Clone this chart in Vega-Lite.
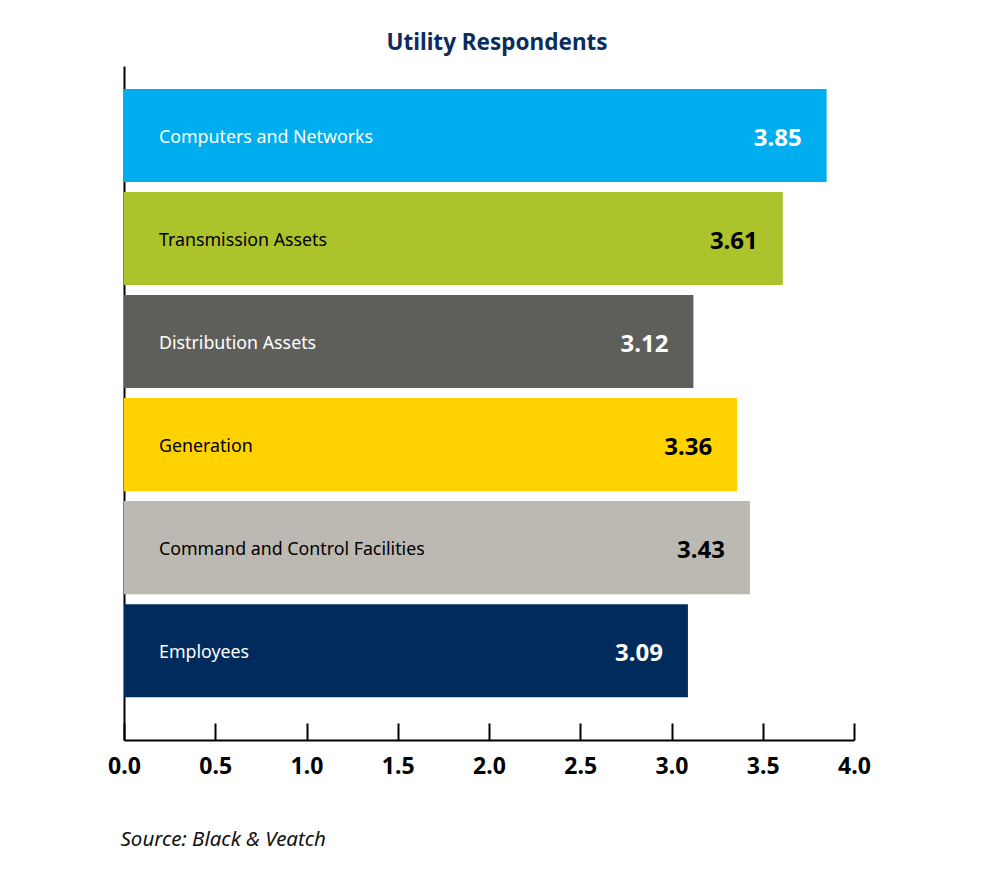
{
  "$schema": "https://vega.github.io/schema/vega-lite/v6.json",
  "autosize": "none",
  "width": 730,
  "height": 674,
  "padding": {"left": 124, "top": 66, "right": 135, "bottom": 137},
  "background": "white",
  "title": {
    "text": "Utility Respondents",
    "font": "Noto Sans",
    "fontSize": 22.5,
    "fontWeight": "bold",
    "color": "#0b2d5e",
    "anchor": "middle",
    "dx": 8,
    "baseline": "alphabetic",
    "offset": -6
  },
  "config": {
    "view": {"stroke": null},
    "font": "Noto Sans"
  },
  "data": {
    "values": [
      {"category": "Computers and Networks", "value": 3.85},
      {"category": "Transmission Assets", "value": 3.61},
      {"category": "Distribution Assets", "value": 3.12},
      {"category": "Generation", "value": 3.36},
      {"category": "Command and Control Facilities", "value": 3.43},
      {"category": "Employees", "value": 3.09}
    ]
  },
  "encoding": {
    "y": {
      "field": "category",
      "type": "nominal",
      "sort": null,
      "scale": {"paddingInner": 0.097, "paddingOuter": 0.32, "align": 0.35},
      "axis": {
        "title": null,
        "labels": false,
        "ticks": false,
        "domainColor": "black",
        "domainWidth": 2
      }
    }
  },
  "layer": [
    {
      "mark": {"type": "bar"},
      "encoding": {
        "x": {
          "field": "value",
          "type": "quantitative",
          "scale": {"domain": [0, 4], "nice": false},
          "axis": {
            "values": [0, 0.5, 1, 1.5, 2, 2.5, 3, 3.5, 4],
            "format": ".1f",
            "grid": false,
            "domainColor": "black",
            "domainWidth": 2,
            "tickColor": "black",
            "tickWidth": 2,
            "tickSize": -17,
            "labelFont": "Noto Sans",
            "labelFontSize": 23,
            "labelFontWeight": "bold",
            "labelColor": "black",
            "labelPadding": 32,
            "labelFlush": false,
            "title": "Source: Black & Veatch",
            "titleFont": "Noto Sans",
            "titleFontSize": 20.5,
            "titleFontStyle": "italic",
            "titleFontWeight": "normal",
            "titleColor": "#111111",
            "titleAnchor": "start",
            "titleAlign": "left",
            "titleBaseline": "alphabetic",
            "titleX": -4,
            "titleY": 105
          }
        },
        "color": {
          "field": "category",
          "type": "nominal",
          "legend": null,
          "scale": {
            "domain": ["Computers and Networks", "Transmission Assets", "Distribution Assets", "Generation", "Command and Control Facilities", "Employees"],
            "range": ["#00aeef", "#adc32b", "#5e5f5b", "#ffd200", "#bcb9b2", "#002b5c"]
          }
        }
      }
    },
    {
      "mark": {"type": "text", "align": "left", "baseline": "middle", "dx": 35, "dy": 2, "fontSize": 17.8, "font": "Noto Sans"},
      "encoding": {
        "x": {"datum": 0, "type": "quantitative"},
        "text": {"field": "category"},
        "color": {
          "field": "category",
          "type": "nominal",
          "legend": null,
          "scale": {
            "domain": ["Computers and Networks", "Transmission Assets", "Distribution Assets", "Generation", "Command and Control Facilities", "Employees"],
            "range": ["white", "black", "white", "black", "black", "white"]
          }
        }
      }
    },
    {
      "mark": {"type": "text", "align": "right", "baseline": "middle", "dx": -25, "dy": 3, "fontSize": 24, "fontWeight": "bold", "font": "Noto Sans"},
      "encoding": {
        "x": {"field": "value", "type": "quantitative"},
        "text": {"field": "value", "type": "quantitative", "format": ".2f"},
        "color": {
          "field": "category",
          "type": "nominal",
          "legend": null,
          "scale": {
            "domain": ["Computers and Networks", "Transmission Assets", "Distribution Assets", "Generation", "Command and Control Facilities", "Employees"],
            "range": ["white", "black", "white", "black", "black", "white"]
          }
        }
      }
    }
  ],
  "resolve": {"scale": {"color": "independent"}}
}
